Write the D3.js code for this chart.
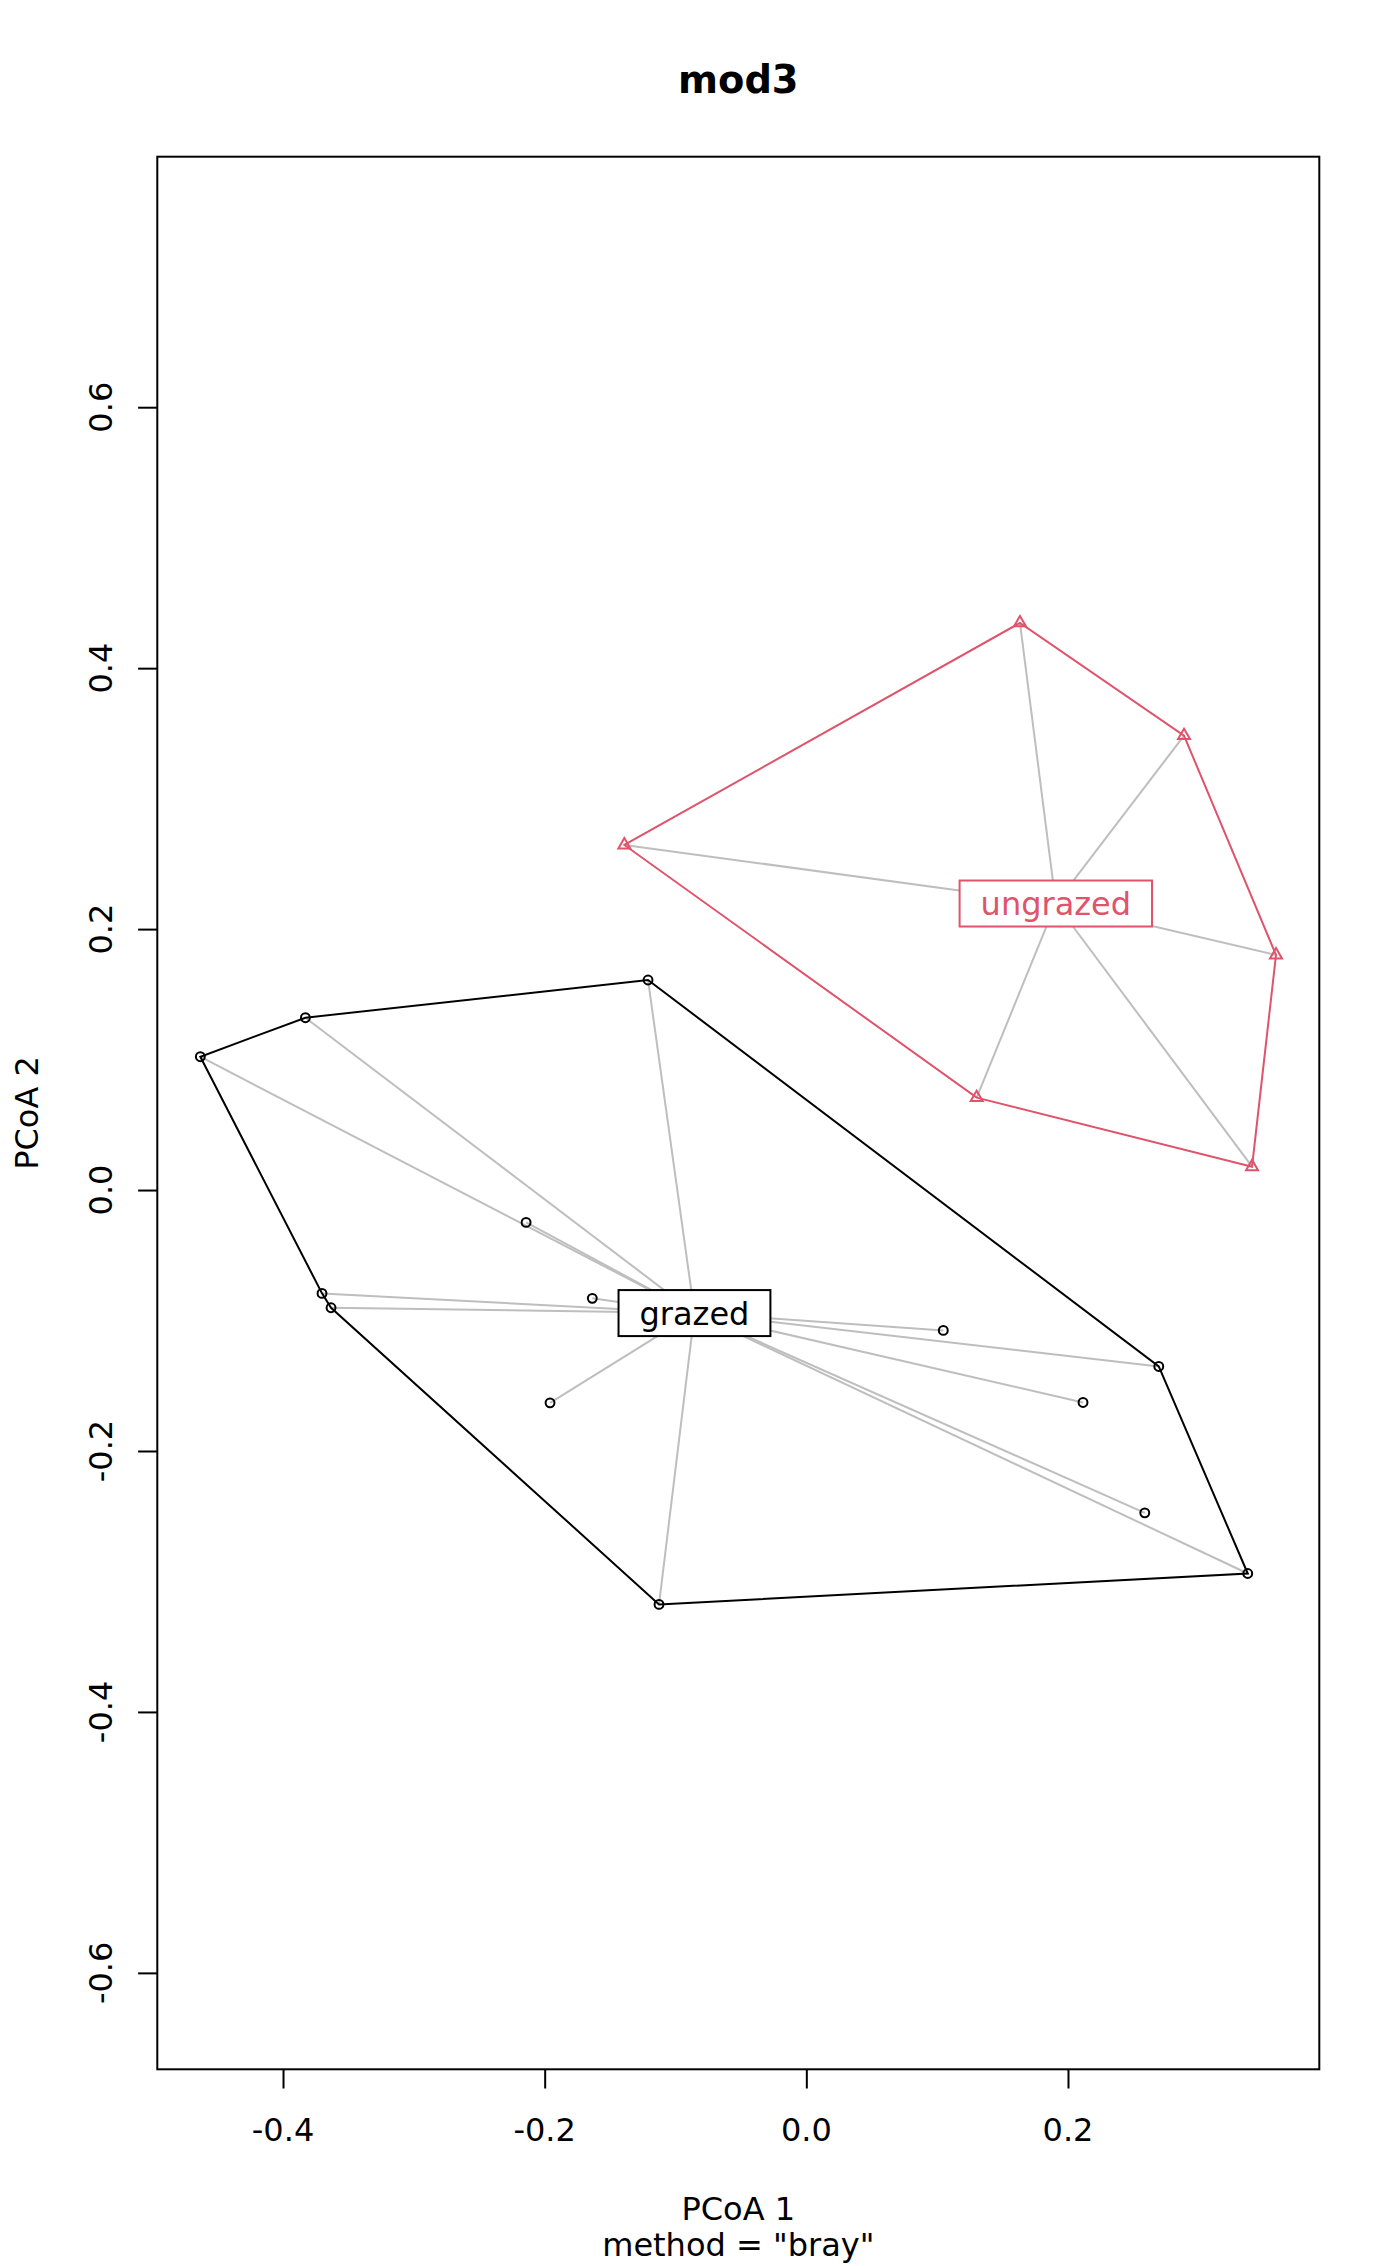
<!DOCTYPE html>
<html>
<head>
<meta charset="utf-8">
<script src="https://cdn.jsdelivr.net/npm/d3@7"></script>
<style>
  html, body { margin: 0; padding: 0; background: #fff; overflow: hidden; }
  svg { display: block; }
  text { font-family: "DejaVu Sans", sans-serif; }
</style>
</head>
<body>
<div id="chart"></div>
<script>
const width = 1400;
const height = 2266;
const margin = { top: 156.7, right: 80.7, bottom: 196.7, left: 157.3 };

// PCoA site scores
const grazedX = [-0.1210, -0.3829, -0.4632, -0.2142, -0.3702, -0.3633, -0.1636, -0.1959,
                 0.1047, -0.1126, 0.2694, 0.2115, 0.2587, 0.3374];
const grazedY = [0.1610, 0.1321, 0.1022, -0.0248, -0.0792, -0.0902, -0.0830, -0.1631,
                 -0.1076, -0.3176, -0.1352, -0.1628, -0.2474, -0.2939];
const ungrazedX = [0.1633, -0.1391, 0.1302, 0.2887, 0.3590, 0.3407];
const ungrazedY = [0.4347, 0.2645, 0.0708, 0.3483, 0.1802, 0.0179];

const groupNames = ["grazed", "ungrazed"];
const groupColors = ["#000000", "#DF536B"];
const centroidX = [-0.0855, 0.1907];
const centroidY = [-0.0943, 0.2196];

const xTicks = [-0.4, -0.2, 0.0, 0.2];
const yTicks = [-0.6, -0.4, -0.2, 0.0, 0.2, 0.4, 0.6];
const xDomain = [-0.4961, 0.3921];
const yDomain = [-0.6739, 0.7920];

const groups = [
    { name: groupNames[0], color: groupColors[0], shape: d3.symbolCircle, size: 62,
      cx: centroidX[0], cy: centroidY[0], pts: grazedX.map((x, i) => [x, grazedY[i]]) },
    { name: groupNames[1], color: groupColors[1], shape: d3.symbolTriangle, size: 62,
      cx: centroidX[1], cy: centroidY[1], pts: ungrazedX.map((x, i) => [x, ungrazedY[i]]) }
];

const innerWidth = width - margin.left - margin.right;
const innerHeight = height - margin.top - margin.bottom;

const svg = d3.select('#chart')
    .append('svg')
    .attr('width', width)
    .attr('height', height);

const xScale = d3.scaleLinear().domain(xDomain).range([margin.left, margin.left + innerWidth]);
const yScale = d3.scaleLinear().domain(yDomain).range([margin.top + innerHeight, margin.top]);

const fmt = d => d.toFixed(1);

// axes (ticks from d3, labels placed R-style)
const xAxis = svg.append('g')
    .attr('transform', `translate(0,${margin.top + innerHeight})`)
    .call(d3.axisBottom(xScale).tickValues(xTicks).tickSize(19.2).tickFormat(''));
xAxis.select('.domain').remove();
xAxis.selectAll('line').attr('stroke-width', 2);

svg.append('g')
    .selectAll('text')
    .data(xTicks)
    .enter()
    .append('text')
    .attr('x', d => xScale(d))
    .attr('y', margin.top + innerHeight + 72)
    .attr('text-anchor', 'middle')
    .attr('font-size', 32)
    .text(fmt);

const yAxis = svg.append('g')
    .attr('transform', `translate(${margin.left},0)`)
    .call(d3.axisLeft(yScale).tickValues(yTicks).tickSize(19.2).tickFormat(''));
yAxis.select('.domain').remove();
yAxis.selectAll('line').attr('stroke-width', 2);

svg.append('g')
    .selectAll('text')
    .data(yTicks)
    .enter()
    .append('text')
    .attr('transform', d => `translate(${margin.left - 45.6},${yScale(d)}) rotate(-90)`)
    .attr('text-anchor', 'middle')
    .attr('font-size', 32)
    .text(fmt);

// spider segments to the centroids
const plot = svg.append('g');
groups.forEach(g => {
    plot.append('g')
        .selectAll('line')
        .data(g.pts)
        .enter()
        .append('line')
        .attr('x1', d => xScale(d[0]))
        .attr('y1', d => yScale(d[1]))
        .attr('x2', xScale(g.cx))
        .attr('y2', yScale(g.cy))
        .attr('stroke', '#BEBEBE')
        .attr('stroke-width', 2);
});

// convex hulls
groups.forEach(g => {
    const hull = d3.polygonHull(g.pts.map(d => [xScale(d[0]), yScale(d[1])]));
    plot.append('path')
        .attr('d', 'M' + hull.join('L') + 'Z')
        .attr('fill', 'none')
        .attr('stroke', g.color)
        .attr('stroke-width', 2);
});

// points
groups.forEach(g => {
    plot.append('g')
        .selectAll('path')
        .data(g.pts)
        .enter()
        .append('path')
        .attr('transform', d => `translate(${xScale(d[0])},${yScale(d[1])})`)
        .attr('d', d3.symbol().type(g.shape).size(g.size))
        .attr('fill', 'none')
        .attr('stroke', g.color)
        .attr('stroke-width', 2);
});

// centroid labels in boxes
groups.forEach(g => {
    const lab = plot.append('g')
        .attr('transform', `translate(${xScale(g.cx)},${yScale(g.cy)})`);
    const rect = lab.append('rect');
    const txt = lab.append('text')
        .attr('text-anchor', 'middle')
        .attr('dy', '0.36em')
        .attr('font-size', 32)
        .attr('fill', g.color)
        .text(g.name);
    const w = txt.node().getComputedTextLength() + 42;
    rect.attr('x', -w / 2).attr('y', -23)
        .attr('width', w).attr('height', 46)
        .attr('fill', '#fff')
        .attr('stroke', g.color)
        .attr('stroke-width', 2);
});

// frame
svg.append('rect')
    .attr('x', margin.left)
    .attr('y', margin.top)
    .attr('width', innerWidth)
    .attr('height', innerHeight)
    .attr('fill', 'none')
    .attr('stroke', '#000')
    .attr('stroke-width', 2);

// titles
const midX = margin.left + innerWidth / 2;
svg.append('text')
    .attr('x', midX).attr('y', 93)
    .attr('text-anchor', 'middle')
    .attr('font-size', 38.4)
    .attr('font-weight', 'bold')
    .text('mod3');
svg.append('text')
    .attr('x', midX).attr('y', 2220)
    .attr('text-anchor', 'middle')
    .attr('font-size', 32)
    .text('PCoA 1');
svg.append('text')
    .attr('x', midX).attr('y', 2256)
    .attr('text-anchor', 'middle')
    .attr('font-size', 32)
    .text('method = "bray"');
svg.append('text')
    .attr('transform', `translate(38,${margin.top + innerHeight / 2}) rotate(-90)`)
    .attr('text-anchor', 'middle')
    .attr('font-size', 32)
    .text('PCoA 2');
</script>
</body>
</html>
